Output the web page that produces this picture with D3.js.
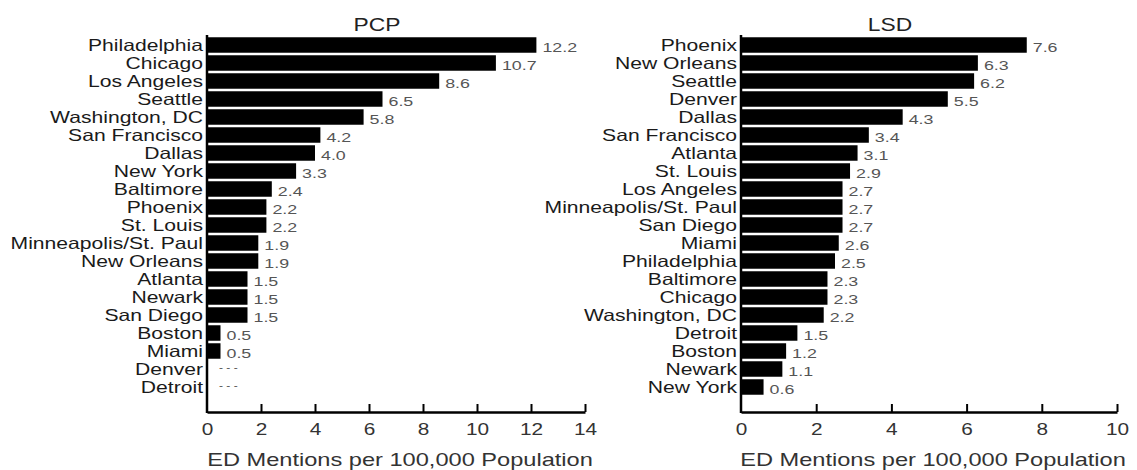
<!DOCTYPE html>
<html>
<head>
<meta charset="utf-8">
<script src="https://cdn.jsdelivr.net/npm/d3@7"></script>
<style>
  html, body { margin: 0; padding: 0; background: #fff; }
  svg { display: block; font-family: "Liberation Sans", Arial, Helvetica, sans-serif; }
</style>
</head>
<body>
<svg id="chart" width="1137" height="470"></svg>
<script>
// ---- Data ----
const pcpCities = ["Philadelphia", "Chicago", "Los Angeles", "Seattle", "Washington, DC",
  "San Francisco", "Dallas", "New York", "Baltimore", "Phoenix", "St. Louis",
  "Minneapolis/St. Paul", "New Orleans", "Atlanta", "Newark", "San Diego", "Boston",
  "Miami", "Denver", "Detroit"];
const pcpValues = [12.2, 10.7, 8.6, 6.5, 5.8, 4.2, 4.0, 3.3, 2.4, 2.2, 2.2, 1.9, 1.9,
  1.5, 1.5, 1.5, 0.5, 0.5, null, null];

const lsdCities = ["Phoenix", "New Orleans", "Seattle", "Denver", "Dallas", "San Francisco",
  "Atlanta", "St. Louis", "Los Angeles", "Minneapolis/St. Paul", "San Diego", "Miami",
  "Philadelphia", "Baltimore", "Chicago", "Washington, DC", "Detroit", "Boston",
  "Newark", "New York"];
const lsdValues = [7.6, 6.3, 6.2, 5.5, 4.3, 3.4, 3.1, 2.9, 2.7, 2.7, 2.7, 2.6, 2.5,
  2.3, 2.3, 2.2, 1.5, 1.2, 1.1, 0.6];

const pcpTicks = [0, 2, 4, 6, 8, 10, 12, 14];
const lsdTicks = [0, 2, 4, 6, 8, 10];

const xAxisTitle = "ED Mentions per 100,000 Population";

// ---- Drawing ----
const svg = d3.select("#chart");
const SX = 1.3;          // horizontal stretch of the original lettering
const AXIS_Y = 412;

function sText(g, x, y, str, opts) {
  const t = g.append("text")
    .attr("transform", `translate(${x},${y}) scale(${opts.scale || SX},1)`)
    .attr("text-anchor", opts.anchor || "start")
    .attr("dominant-baseline", opts.baseline || "central")
    .attr("font-size", opts.size)
    .attr("fill", opts.fill || "#1a1a1a")
    .text(str);
  return t;
}

function panel(cfg) {
  const g = svg.append("g");
  const x = d3.scaleLinear().domain([0, cfg.xMax]).range(cfg.xRange);
  const y = d3.scaleBand().domain(cfg.cities).range([36, 396])
    .paddingInner(0.14).paddingOuter(0.07);
  const bw = y.bandwidth();
  const data = cfg.cities.map((c, i) => ({ c, v: cfg.values[i] }));

  // bars
  g.selectAll("rect.bar").data(data.filter(d => d.v != null)).join("rect")
    .attr("class", "bar")
    .attr("x", x(0))
    .attr("y", d => y(d.c))
    .attr("width", d => x(d.v) - x(0))
    .attr("height", bw)
    .attr("fill", "#000");

  // category labels
  data.forEach(d => {
    sText(g, x(0) - 4, y(d.c) + bw / 2, d.c, { anchor: "end", size: 16.5, fill: "#1a1a1a", scale: 1.28 });
  });

  // value labels
  data.forEach(d => {
    if (d.v != null) {
      sText(g, x(d.v) + 6, y(d.c) + bw / 2 + 2, d3.format(".1f")(d.v),
        { size: 13.5, fill: "#555", scale: 1.32 });
    } else {
      sText(g, x(0) + 12, y(d.c) + bw / 2 - 2, "- - -",
        { size: 10, fill: "#555", scale: 1.2 });
    }
  });

  // vertical axis line
  g.append("line")
    .attr("x1", x(0)).attr("x2", x(0))
    .attr("y1", 35).attr("y2", AXIS_Y + 1)
    .attr("stroke", "#000").attr("stroke-width", 2.5);

  // bottom axis
  const ax = g.append("g")
    .attr("transform", `translate(0,${AXIS_Y})`)
    .call(d3.axisBottom(x).tickValues(cfg.ticks).tickSize(-8).tickSizeOuter(0).tickPadding(12));
  ax.select(".domain").attr("stroke", "#000").attr("stroke-width", 2.5);
  ax.selectAll(".tick line").attr("stroke", "#000").attr("stroke-width", 2);
  ax.selectAll(".tick").filter(d => d === 0).select("line").remove();
  ax.selectAll(".tick text")
    .attr("font-size", 16)
    .attr("font-family", "Liberation Sans, Arial, sans-serif")
    .attr("fill", "#333")
    .attr("transform", `scale(${SX},1)`);

  // panel title
  sText(g, cfg.titleX, 24, cfg.title, { anchor: "middle", size: 19, fill: "#222", scale: 1.2 });

  // x-axis title
  const mid = (cfg.xRange[0] + cfg.xRange[1]) / 2 + 4;
  sText(g, mid, 460, xAxisTitle, { anchor: "middle", size: 17.5, fill: "#333", scale: 1.35 });
}

panel({ cities: pcpCities, values: pcpValues, xMax: 14, ticks: pcpTicks,
  xRange: [207, 585], title: "PCP", titleX: 377 });
panel({ cities: lsdCities, values: lsdValues, xMax: 10, ticks: lsdTicks,
  xRange: [741, 1117], title: "LSD", titleX: 890 });
</script>
</body>
</html>
